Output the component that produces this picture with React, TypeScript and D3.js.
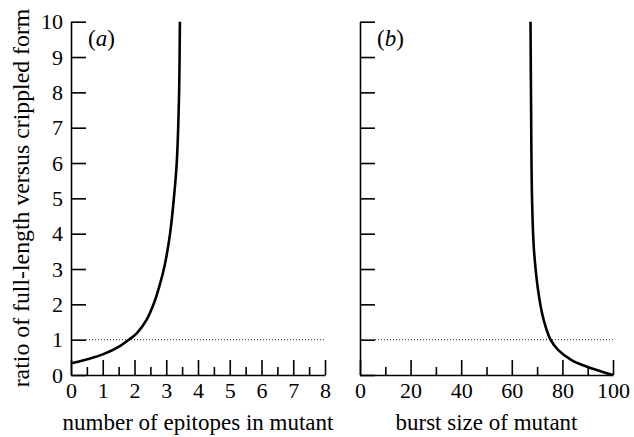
import { useEffect, useRef } from 'react'
import * as d3 from 'd3'

// panel (a): ratio vs number of epitopes in mutant
const epitopes = [0, 0.49, 1.02, 1.54, 1.81, 2.07, 2.38, 2.6, 2.78, 2.95, 3.12, 3.24, 3.33, 3.4, 3.43]
const ratioA = [0.33, 0.44, 0.59, 0.82, 0.99, 1.18, 1.56, 2.0, 2.5, 3.1, 4.0, 5.0, 6.0, 7.8, 10]

// panel (b): ratio vs burst size of mutant
const burst = [100, 97.5, 89.5, 83.6, 78.3, 75.3, 72.6, 70.8, 68.8, 68.0, 67.6, 67.4]
const ratioB = [0, 0.05, 0.24, 0.42, 0.71, 1, 1.56, 2.2, 3.5, 5, 7.8, 10]

const yTicks = [0, 1, 2, 3, 4, 5, 6, 7, 8, 9, 10]
const xTicksA = [0, 1, 2, 3, 4, 5, 6, 7, 8]
const xMinorA = [0.5, 1.5, 2.5, 3.5, 4.5, 5.5, 6.5, 7.5]
const xTicksB = [0, 20, 40, 60, 80, 100]
const xMinorB = [10, 30, 50, 70, 90]

const FONT = "'Liberation Serif', 'Times New Roman', Times, 'DejaVu Serif', serif"
const TICK_SIZE = 22
const TITLE_SIZE = 23

export default function App() {
  const svgRef = useRef<SVGSVGElement>(null)

  useEffect(() => {
    const el = svgRef.current
    if (!el) return
    const svg = d3.select(el)
    svg.selectAll('*').remove()

    const top = 21.7, bottom = 375
    const y = d3.scaleLinear().domain([0, 10]).range([bottom, top])

    const panels = [
      { x0: 71, x1: 325, domain: [0, 8], xs: epitopes, ys: ratioA, ticks: xTicksA, minor: xMinorA,
        yLabels: true, tag: 'a', title: 'number of epitopes in mutant' },
      { x0: 360, x1: 613, domain: [0, 100], xs: burst, ys: ratioB, ticks: xTicksB, minor: xMinorB,
        yLabels: false, tag: 'b', title: 'burst size of mutant' },
    ]

    const styleAxis = (ax: any) => {
      ax.attr('font-family', null).attr('font-size', TICK_SIZE)
      ax.select('.domain').attr('stroke-width', 1.6).attr('stroke', '#000')
      ax.selectAll('.tick line').attr('stroke-width', 1.6).attr('stroke', '#000')
      ax.selectAll('text').attr('fill', '#000')
    }

    panels.forEach(p => {
      const x = d3.scaleLinear().domain(p.domain).range([p.x0, p.x1])

      // y axis, ticks inward
      svg.append('g')
        .attr('transform', `translate(${p.x0},0)`)
        .call(
          d3.axisLeft(y)
            .tickValues(yTicks)
            .tickSize(-15)
            .tickSizeOuter(0)
            .tickPadding(8)
            .tickFormat(d => (p.yLabels ? String(d) : ''))
        )
        .call(styleAxis)

      // x axis, major ticks inward
      svg.append('g')
        .attr('transform', `translate(0,${bottom})`)
        .call(
          d3.axisBottom(x)
            .tickValues(p.ticks)
            .tickSize(-15)
            .tickSizeOuter(0)
            .tickPadding(7)
            .tickFormat(d => String(d))
        )
        .call(styleAxis)

      // minor ticks
      svg.append('g')
        .attr('transform', `translate(0,${bottom})`)
        .call(
          d3.axisBottom(x)
            .tickValues(p.minor)
            .tickSize(-8)
            .tickSizeOuter(0)
            .tickFormat(() => '')
        )
        .call(styleAxis)
        .call(ax => ax.select('.domain').remove())

      // dotted reference line at ratio 1
      svg.append('line')
        .attr('x1', p.x0 + 15)
        .attr('x2', p.x1 + 1)
        .attr('y1', y(1))
        .attr('y2', y(1))
        .attr('stroke', '#333')
        .attr('stroke-width', 1)
        .attr('stroke-dasharray', '1 2')

      // curve
      const pts = p.xs.map((v, i) => [v, p.ys[i]] as [number, number])
        .sort((a, b) => a[1] - b[1])
      const line = d3.line<[number, number]>()
        .x(d => x(d[0]))
        .y(d => y(d[1]))
        .curve(d3.curveCatmullRom.alpha(0.5))
      svg.append('path')
        .datum(pts)
        .attr('d', line)
        .attr('fill', 'none')
        .attr('stroke', '#000')
        .attr('stroke-width', 2.6)

      // panel tag
      const tag = svg.append('text')
        .attr('x', p.x0 + 17)
        .attr('y', 46)
        .attr('font-size', TITLE_SIZE)
      tag.append('tspan').text('(')
      tag.append('tspan').attr('font-style', 'italic').text(p.tag)
      tag.append('tspan').text(')')

      // x title
      svg.append('text')
        .attr('x', (p.x0 + p.x1) / 2)
        .attr('y', 430)
        .attr('text-anchor', 'middle')
        .attr('font-size', TITLE_SIZE)
        .text(p.title)
    })

    // y title
    svg.append('text')
      .attr('transform', 'translate(29,198) rotate(-90)')
      .attr('text-anchor', 'middle')
      .attr('font-size', 23.8)
      .text('ratio of full-length versus crippled form')
  }, [])

  return (
    <svg
      ref={svgRef}
      width={634}
      height={437}
      style={{ position: 'absolute', left: 0, top: 0, background: '#fff', fontFamily: FONT, fontSize: 20 }}
    />
  )
}
